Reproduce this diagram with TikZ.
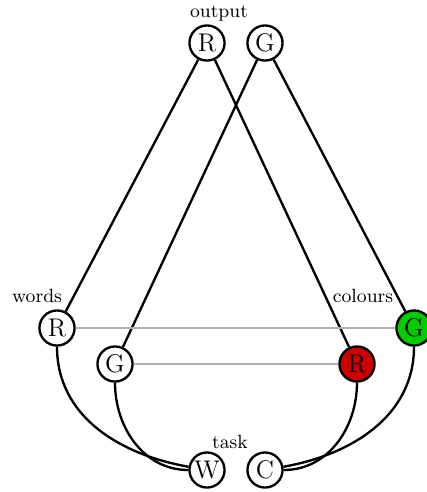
\documentclass[tikz,border=0pt]{standalone}
\begin{document}
\begin{tikzpicture}[x=0.47pt,y=-0.47pt,
  unit/.style={circle,draw=black,line width=1.1pt,minimum size=16.5pt,inner sep=0pt,fill=white,font=\large},
  conn/.style={line width=1.1pt,black},
  inhib/.style={line width=1pt,black!30},
  lab/.style={font=\small,inner sep=0pt}]
\useasboundingbox (0,0) rectangle (427,492);
\node[lab] (lout) at (219,13) {output};
\node[lab] (lwords) at (37,296) {words};
\node[lab] (lcol) at (363,296) {colours};
\node[lab] (ltask) at (230,442) {task};
\coordinate (oR) at (207,43);
\coordinate (oG) at (265,43);
\coordinate (wR) at (57,328);
\coordinate (wG) at (115,364);
\coordinate (cG) at (414,328);
\coordinate (cR) at (357,364);
\coordinate (tW) at (207,470);
\coordinate (tC) at (265,470);
\node[unit] (outR) at (oR) {R};
\node[unit] (outG) at (oG) {G};
\node[unit] (wordR) at (wR) {R};
\node[unit] (wordG) at (wG) {G};
\node[unit,fill={rgb,255:red,0;green,204;blue,0}] (colG) at (cG) {G};
\node[unit,fill={rgb,255:red,204;green,0;blue,0}] (colR) at (cR) {R};
\node[unit] (taskW) at (tW) {W};
\node[unit] (taskC) at (tC) {C};
\draw[conn] (outR) -- (wordR);
\draw[conn] (outR) -- (colR);
\draw[conn] (outG) -- (wordG);
\draw[conn] (outG) -- (colG);
\draw[inhib] (wordR) -- (colG);
\draw[inhib] (wordG) -- (colR);
\draw[conn] (wordR) to[out=-90,in=170] (taskW);
\draw[conn] (wordG) to[out=-90,in=180] (taskW);
\draw[conn] (colG) to[out=-90,in=10] (taskC);
\draw[conn] (colR) to[out=-90,in=0] (taskC);
\end{tikzpicture}
\end{document}
